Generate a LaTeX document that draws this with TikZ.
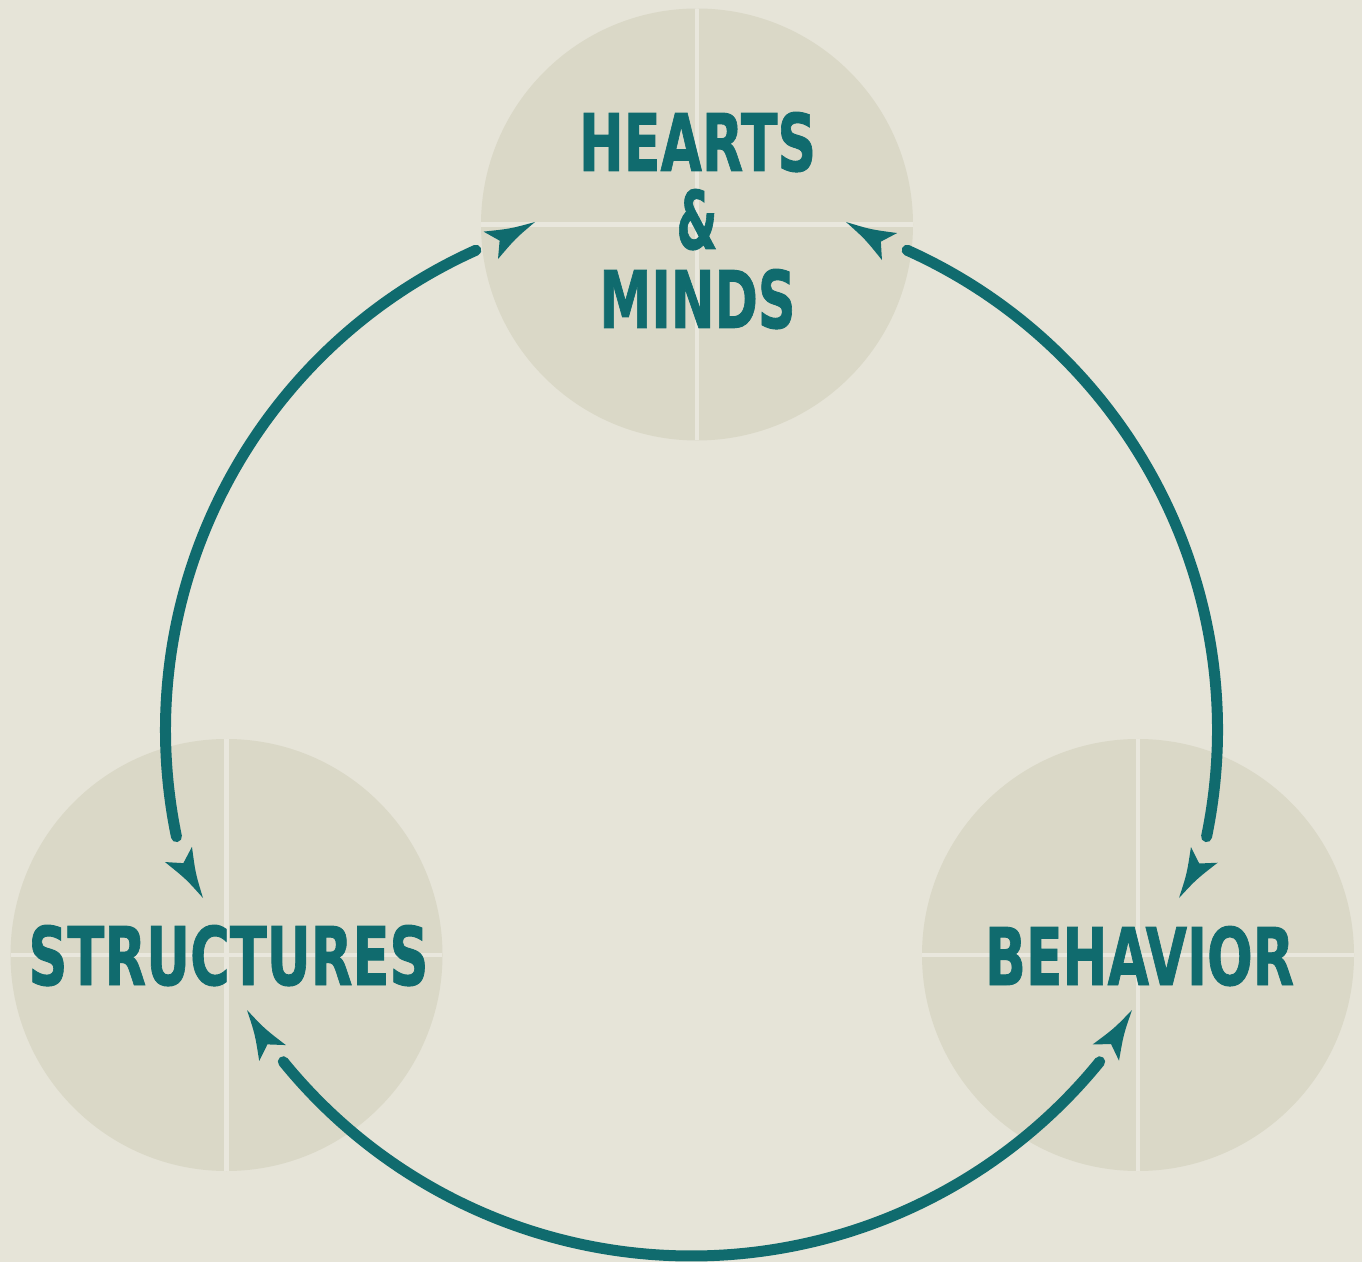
\documentclass[tikz,border=0pt]{standalone}
\usepackage{fontspec}
\setmainfont{DejaVu Sans}
\newfontfamily\lblfont{DejaVu Sans}[BoldFeatures={FakeBold=1.2}]
\usepackage{graphicx}
\definecolor{bgc}{HTML}{E6E4D8}
\definecolor{disc}{HTML}{DAD8C7}
\definecolor{crossc}{HTML}{E9E7DD}
\definecolor{tealc}{HTML}{106B6E}
\newcommand{\lblfit}[3]{\resizebox{#1pt}{#2pt}{\lblfont\bfseries #3}}
\begin{document}
\begin{tikzpicture}[x=1pt,y=1pt,
  hub/.style={circle, fill=disc, minimum size=432pt, inner sep=0pt,
    path picture={\draw[crossc, line width=4.5pt]
      (path picture bounding box.north) -- (path picture bounding box.south)
      (path picture bounding box.west) -- (path picture bounding box.east);}},
  conn/.style={tealc, line width=11pt, line cap=round},
  lbl/.style={text=tealc, inner sep=0pt, anchor=base},
  barb/.pic={\fill[tealc] (0,0) .. controls (-25,5.5) .. (-50,15.5) -- (-40,0) -- (-50,-15.5) .. controls (-25,-5.5) .. (0,0) -- cycle;}
]
\useasboundingbox (0,0) rectangle (1362,1262);
\fill[bgc] (0,0) rectangle (1362,1262);

% circles
\node[hub] (top) at (697,1037.5) {};
\node[hub] (left) at (226.5,307) {};
\node[hub] (right) at (1138,307) {};

% big ring centre and arc end points
\coordinate (C) at (691.5,532);
\coordinate (tl) at ([shift={(114.2:526)}]C);
\coordinate (lt) at ([shift={(191.7:526)}]C);
\coordinate (lb) at ([shift={(219.1:526)}]C);
\coordinate (rb) at ([shift={(320.9:526)}]C);
\coordinate (rt) at ([shift={(348.3:526)}]C);
\coordinate (tr) at ([shift={(65.8:526)}]C);

% connectors
\draw[conn] (tl) arc[start angle=114.2, end angle=191.7, radius=526];
\draw[conn] (tr) arc[start angle=65.8, end angle=-11.7, radius=526];
\draw[conn] (lb) arc[start angle=219.1, end angle=320.9, radius=526];

% arrowheads
\pic[rotate=27.8] at (535,1040) {barb};
\pic[rotate=150.6] at (846,1040) {barb};
\pic[rotate=299.4] at (203,364) {barb};
\pic[rotate=239.6] at (1179,364) {barb};
\pic[rotate=120.7] at (247,252) {barb};
\pic[rotate=58.4] at (1132,252) {barb};

% labels
\node[lbl] (hearts) at (697.5,1091) {\lblfit{237}{59}{HEARTS}};
\node[lbl] (amp) at (697,1013) {\lblfit{41}{60}{\&}};
\node[lbl] (minds) at (697.5,934) {\lblfit{196}{59}{MINDS}};
\node[lbl] (structures) at (228.5,277) {\lblfit{400}{60}{STRUCTURES}};
\node[lbl] (behavior) at (1139.5,277) {\lblfit{309}{59}{BEHAVIOR}};
\end{tikzpicture}
\end{document}
